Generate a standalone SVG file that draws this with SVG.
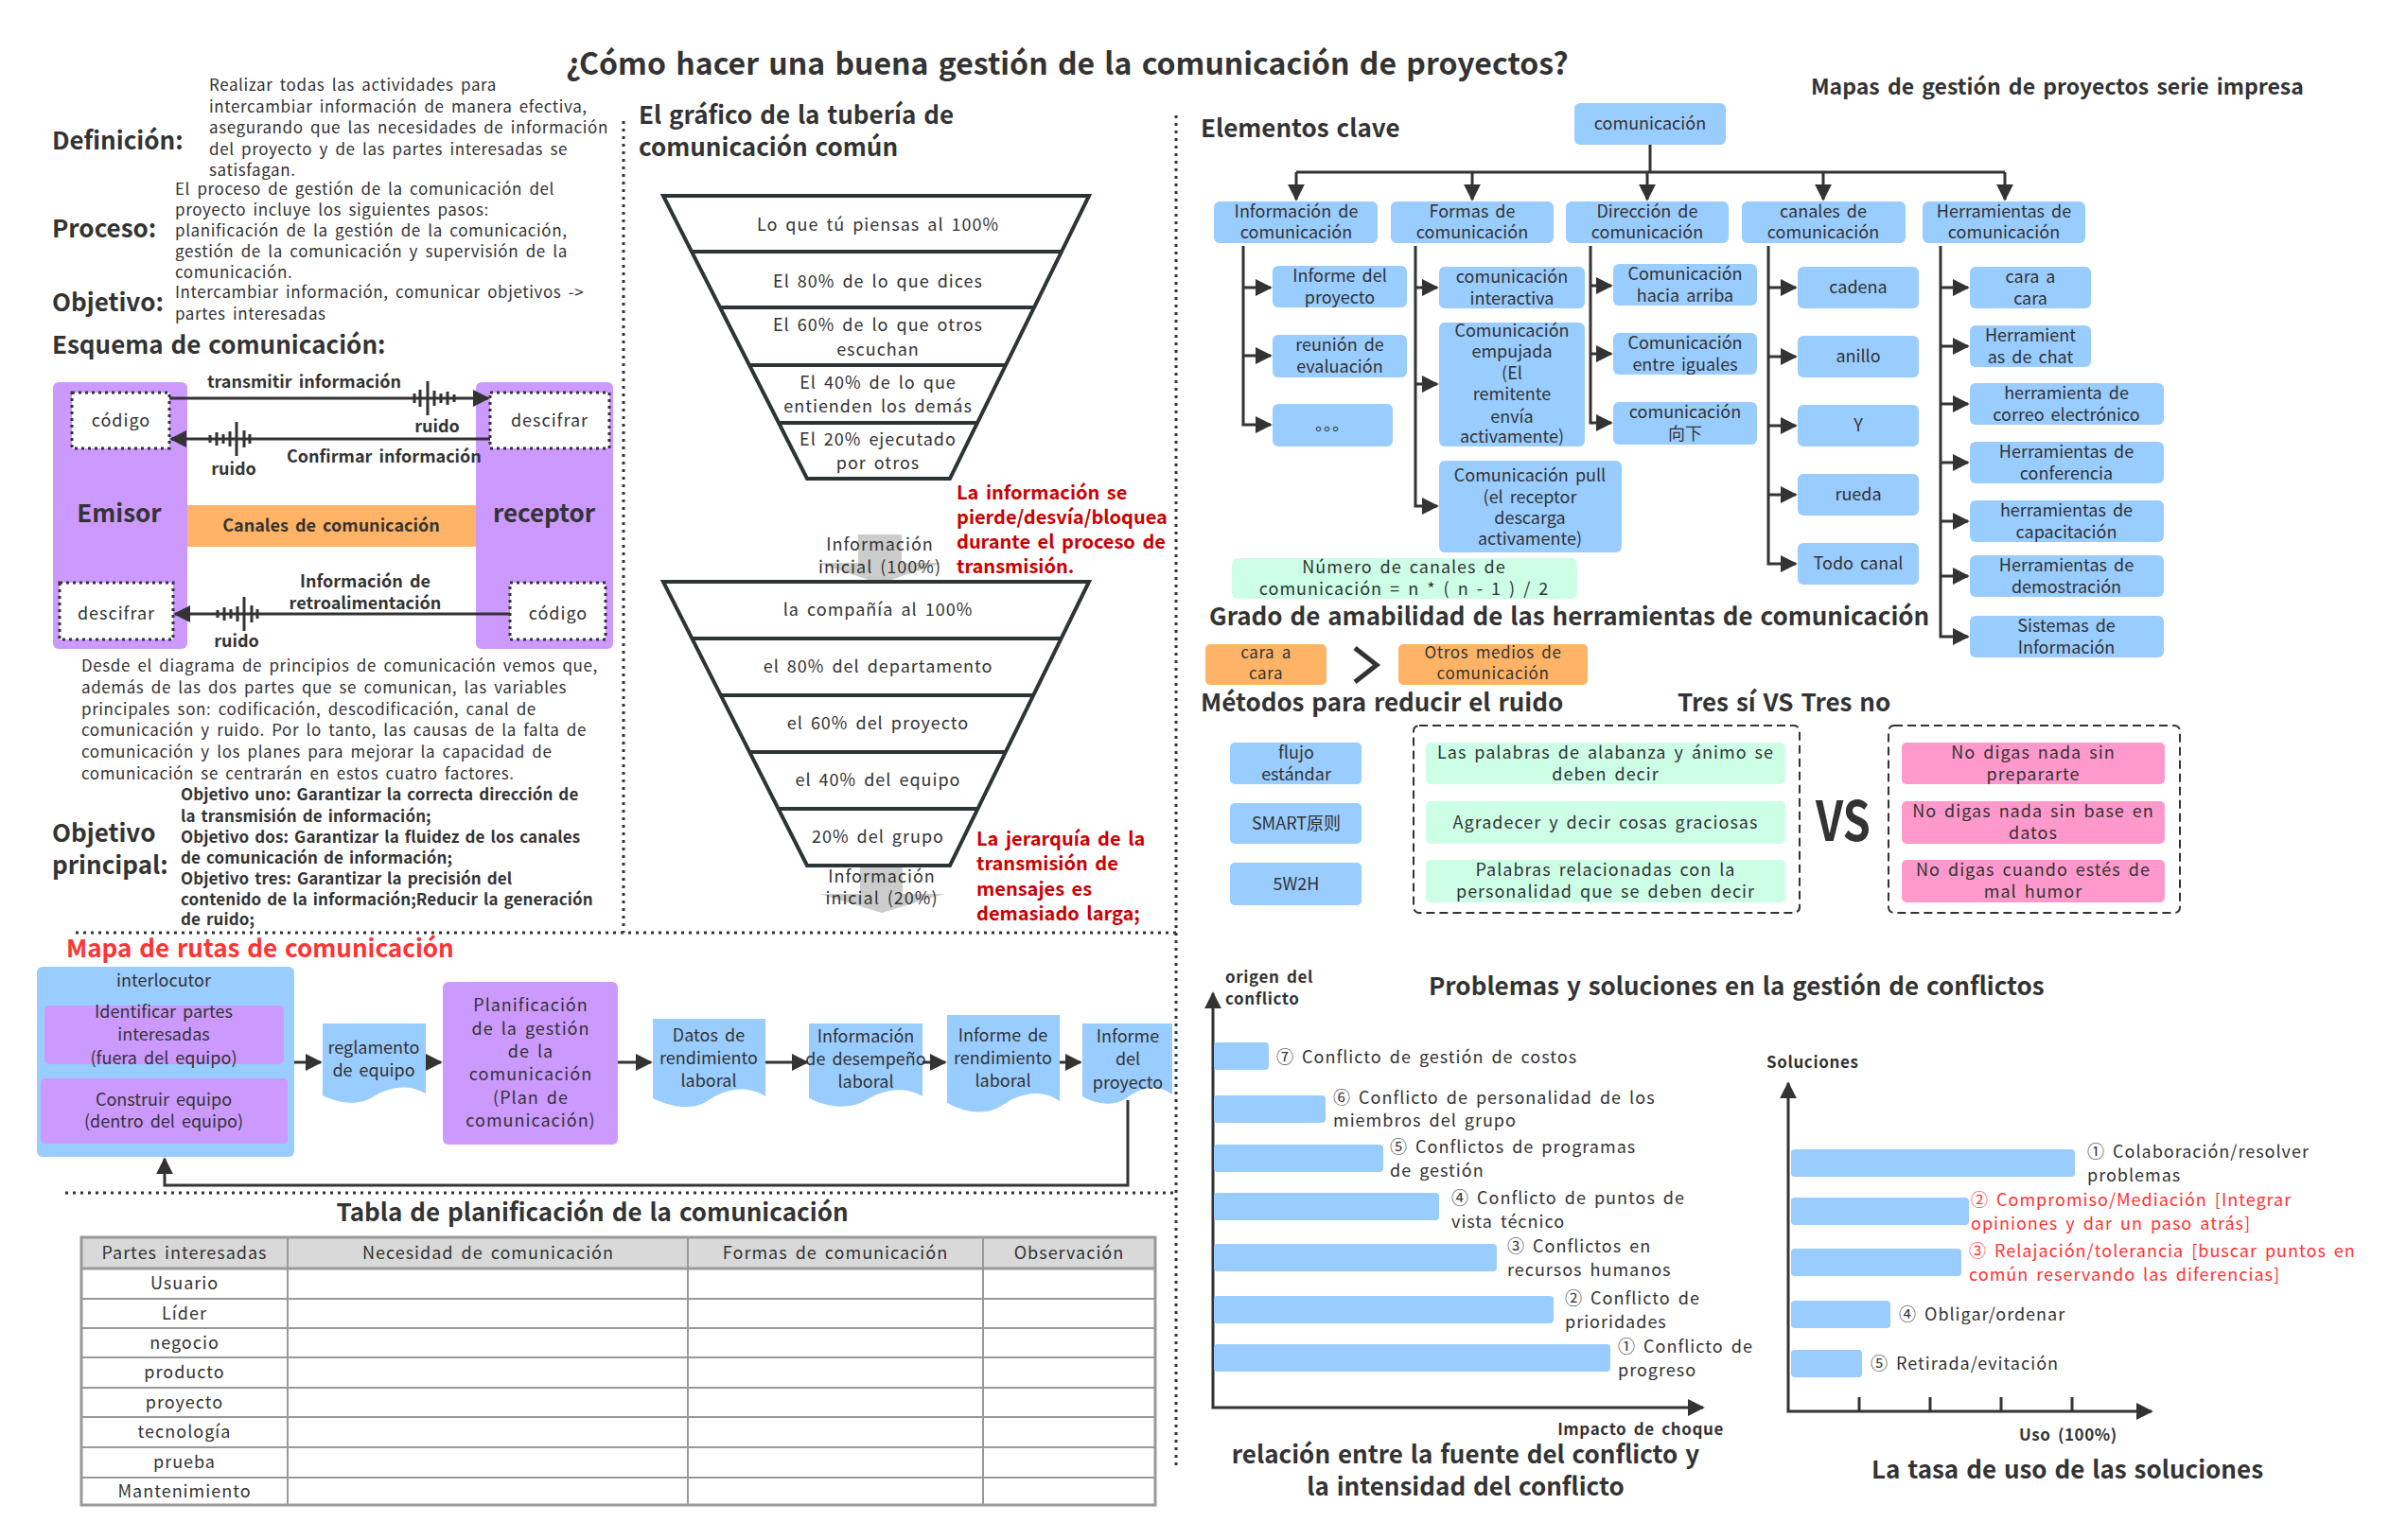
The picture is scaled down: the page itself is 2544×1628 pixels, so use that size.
<svg xmlns="http://www.w3.org/2000/svg" width="2544" height="1628" viewBox="0 0 2544 1628">
<defs>
<style>
text{font-family:"Noto Sans CJK SC","Noto Sans",sans-serif;fill:#333;font-size:18px;word-spacing:3px}
.b{font-weight:bold}
.m{text-anchor:middle}
.e{text-anchor:end}
.h1{font-size:32px;font-weight:bold}
.h2{font-size:26px;font-weight:bold;word-spacing:2px}
.h3{font-size:23px;font-weight:bold}
.s17{font-size:17px;letter-spacing:0.6px}
.ob{font-size:17px;font-weight:bold;letter-spacing:0.1px;word-spacing:2px}
.f{letter-spacing:1px}
.blue{fill:#99CCFF}
.purple{fill:#CC99FF}
.orange{fill:#FFB366}
.mint{fill:#CCFFE6}
.pink{fill:#FF99CC}
.ln{stroke:#333;stroke-width:3;fill:none}
.fun{stroke:#2D3436;stroke-width:4;fill:none;stroke-linejoin:miter}
.dot{stroke:#333;stroke-width:3;stroke-dasharray:3 4;fill:#fff}
.sep{stroke:#333;stroke-width:3;stroke-dasharray:3 5;fill:none}
.dash{stroke:#333;stroke-width:2;stroke-dasharray:9 5;fill:none}
.red{fill:#CC0000;font-weight:bold;font-size:20px}
.red2{fill:#FF3333}
.gray{fill:#CCCCCC}
.tb{stroke:#999;stroke-width:2;fill:none}
</style>
<marker id="ar" viewBox="0 0 10 10" refX="9" refY="5" markerWidth="6" markerHeight="6" orient="auto-start-reverse" markerUnits="strokeWidth">
<path d="M0,0 L10,5 L0,10 Z" fill="#333"/>
</marker>
<path id="noise" d="M-14,-5v10 M-8,-9v18 M0,-18v36 M7,-8v16 M14,-5v10 M21,-7v14 M28,-4v8" stroke="#333" stroke-width="3" fill="none"/>
</defs>
<rect width="2544" height="1628" fill="#fff"/>

<!-- Titles -->
<text class="h1 m" x="1128" y="79">¿Cómo hacer una buena gestión de la comunicación de proyectos?</text>
<text class="h3" x="1914" y="100">Mapas de gestión de proyectos serie impresa</text>

<!-- Separators -->
<g id="separators">
<path class="sep" d="M659,128 V986"/>
<path class="sep" d="M1243,122 V1550"/>
<path class="sep" d="M80,986 H1243"/>
<path class="sep" d="M69,1261 H1243"/>
</g>

<!-- Definitions -->
<g id="definicion">
<text class="h2" x="55" y="158">Definición:</text>
<text class="s17" x="221" y="96">Realizar todas las actividades para</text>
<text class="s17" x="221" y="119">intercambiar información de manera efectiva,</text>
<text class="s17" x="221" y="141">asegurando que las necesidades de información</text>
<text class="s17" x="221" y="164">del proyecto y de las partes interesadas se</text>
<text class="s17" x="221" y="186">satisfagan.</text>
</g>
<g id="proceso">
<text class="h2" x="55" y="251">Proceso:</text>
<text class="s17" x="185" y="206">El proceso de gestión de la comunicación del</text>
<text class="s17" x="185" y="228">proyecto incluye los siguientes pasos:</text>
<text class="s17" x="185" y="250">planificación de la gestión de la comunicación,</text>
<text class="s17" x="185" y="272">gestión de la comunicación y supervisión de la</text>
<text class="s17" x="185" y="294">comunicación.</text>
</g>
<g id="objetivo">
<text class="h2" x="55" y="329">Objetivo:</text>
<text class="s17" x="185" y="315">Intercambiar información, comunicar objetivos -&gt;</text>
<text class="s17" x="185" y="338">partes interesadas</text>
</g>
<text class="h2" x="55" y="374">Esquema de comunicación:</text>

<!-- Communication scheme -->
<g id="emisor">
<rect class="purple" x="56" y="404" width="142" height="282" rx="6"/>
<text class="h2 m" x="126" y="552">Emisor</text>
</g>
<g id="receptor">
<rect class="purple" x="503" y="404" width="145" height="282" rx="6"/>
<text class="h2 m" x="575" y="552">receptor</text>
</g>
<g id="canales">
<rect class="orange" x="198" y="534" width="305" height="44"/>
<text class="b m" x="350" y="562">Canales de comunicación</text>
</g>
<g id="codigo1"><rect class="dot" x="76" y="415" width="103" height="59"/><text class="m f" x="128" y="451">código</text></g>
<g id="descifrar1"><rect class="dot" x="518" y="415" width="126" height="59"/><text class="m f" x="581" y="451">descifrar</text></g>
<g id="descifrar2"><rect class="dot" x="63" y="616" width="120" height="60"/><text class="m f" x="123" y="655">descifrar</text></g>
<g id="codigo2"><rect class="dot" x="539" y="616" width="101" height="60"/><text class="m f" x="590" y="655">código</text></g>
<g id="scheme-connectors">
<path class="ln" d="M179,421 H516" marker-end="url(#ar)"/>
<path class="ln" d="M518,464 H181" marker-end="url(#ar)"/>
<path class="ln" d="M539,649 H185" marker-end="url(#ar)"/>
<use href="#noise" x="452" y="421"/>
<use href="#noise" transform="translate(250,464) scale(-1,1)"/>
<use href="#noise" transform="translate(258,649) scale(-1,1)"/>
</g>
<text class="b" x="219" y="410">transmitir información</text>
<text class="b m" x="462" y="457">ruido</text>
<text class="b" x="303" y="489">Confirmar información</text>
<text class="b m" x="247" y="502">ruido</text>
<text class="b m" x="386" y="621">Información de</text>
<text class="b m" x="386" y="644">retroalimentación</text>
<text class="b m" x="250" y="684">ruido</text>

<g id="parrafo">
<text class="s17" x="86" y="710">Desde el diagrama de principios de comunicación vemos que,</text>
<text class="s17" x="86" y="733">además de las dos partes que se comunican, las variables</text>
<text class="s17" x="86" y="756">principales son: codificación, descodificación, canal de</text>
<text class="s17" x="86" y="778">comunicación y ruido. Por lo tanto, las causas de la falta de</text>
<text class="s17" x="86" y="801">comunicación y los planes para mejorar la capacidad de</text>
<text class="s17" x="86" y="824">comunicación se centrarán en estos cuatro factores.</text>
</g>
<g id="objetivo-principal">
<text class="h2" x="55" y="890">Objetivo</text>
<text class="h2" x="55" y="924">principal:</text>
<text class="ob" x="191" y="846">Objetivo uno: Garantizar la correcta dirección de</text>
<text class="ob" x="191" y="869">la transmisión de información;</text>
<text class="ob" x="191" y="891">Objetivo dos: Garantizar la fluidez de los canales</text>
<text class="ob" x="191" y="913">de comunicación de información;</text>
<text class="ob" x="191" y="935">Objetivo tres: Garantizar la precisión del</text>
<text class="ob" x="191" y="957">contenido de la información;Reducir la generación</text>
<text class="ob" x="191" y="978">de ruido;</text>
</g>

<!-- Funnel section -->
<text class="h2" x="675" y="131">El gráfico de la tubería de</text>
<text class="h2" x="675" y="165">comunicación común</text>
<g id="funnel1">
<path class="fun" d="M701,207 H1151 L1004,506 H853 Z M731,266 H1122 M761,325 H1093 M792,386 H1063 M823,447 H1033"/>
<text class="m f" x="928" y="244">Lo que tú piensas al 100%</text>
<text class="m f" x="928" y="304">El 80% de lo que dices</text>
<text class="m f" x="928" y="350">El 60% de lo que otros</text>
<text class="m f" x="928" y="376">escuchan</text>
<text class="m f" x="928" y="411">El 40% de lo que</text>
<text class="m f" x="928" y="436">entienden los demás</text>
<text class="m f" x="928" y="471">El 20% ejecutado</text>
<text class="m f" x="928" y="496">por otros</text>
</g>
<g id="red-note1">
<text class="red" x="1011" y="528">La información se</text>
<text class="red" x="1011" y="554">pierde/desvía/bloquea</text>
<text class="red" x="1011" y="580">durante el proceso de</text>
<text class="red" x="1011" y="606">transmisión.</text>
</g>
<g id="input-arrow1">
<path class="gray" d="M907,565 H953 V595 H995 L930,617 L864,595 H907 Z"/>
<text class="m f" x="930" y="582">Información</text>
<text class="m f" x="930" y="606">inicial (100%)</text>
</g>
<g id="funnel2">
<path class="fun" d="M701,615 H1151 L1004,915 H853 Z M731,675 H1122 M762,735 H1092 M792,795 H1063 M823,855 H1033"/>
<text class="m f" x="928" y="651">la compañía al 100%</text>
<text class="m f" x="928" y="711">el 80% del departamento</text>
<text class="m f" x="928" y="771">el 60% del proyecto</text>
<text class="m f" x="928" y="831">el 40% del equipo</text>
<text class="m f" x="928" y="891">20% del grupo</text>
</g>
<g id="input-arrow2">
<path class="gray" d="M909,917 H954 V945 H998 L932,965 L866,945 H909 Z"/>
<text class="m f" x="932" y="933">Información</text>
<text class="m f" x="932" y="956">inicial (20%)</text>
</g>
<g id="red-note2">
<text class="red" x="1032" y="894">La jerarquía de la</text>
<text class="red" x="1032" y="920">transmisión de</text>
<text class="red" x="1032" y="947">mensajes es</text>
<text class="red" x="1032" y="973">demasiado larga;</text>
</g>

<!-- Route map -->
<text class="h2 red2" x="70" y="1012">Mapa de rutas de comunicación</text>
<g id="interlocutor">
<rect class="blue" x="39" y="1022" width="272" height="201" rx="6"/>
<text class="m" x="173" y="1043">interlocutor</text>
<rect class="purple" x="47" y="1063" width="253" height="62" rx="5"/>
<text class="m" x="173" y="1076">Identificar partes</text>
<text class="m" x="173" y="1100">interesadas</text>
<text class="m" x="173" y="1125">(fuera del equipo)</text>
<rect class="purple" x="43" y="1140" width="261" height="69" rx="5"/>
<text class="m" x="173" y="1169">Construir equipo</text>
<text class="m" x="173" y="1192">(dentro del equipo)</text>
</g>
<g id="reglamento">
<path class="blue" d="M341,1082 H450 V1156 C428,1143 406,1152 395,1159 C379,1170 357,1166 341,1158 Z"/>
<text class="m" x="395" y="1114">reglamento</text>
<text class="m" x="395" y="1138">de equipo</text>
</g>
<g id="planificacion">
<rect class="purple" x="468" y="1038" width="185" height="172" rx="6"/>
<text class="m f" x="561" y="1069">Planificación</text>
<text class="m f" x="561" y="1094">de la gestión</text>
<text class="m f" x="561" y="1118">de la</text>
<text class="m f" x="561" y="1142">comunicación</text>
<text class="m f" x="561" y="1167">(Plan de</text>
<text class="m f" x="561" y="1191">comunicación)</text>
</g>
<g id="datos">
<path class="blue" d="M690,1077 H809 V1159 C785,1144 761,1155 749,1163 C732,1175 708,1170 690,1161 Z"/>
<text class="m" x="749" y="1101">Datos de</text>
<text class="m" x="749" y="1125">rendimiento</text>
<text class="m" x="749" y="1149">laboral</text>
</g>
<g id="desempeno">
<path class="blue" d="M855,1082 H975 V1159 C951,1145 927,1156 915,1163 C897,1174 873,1170 855,1161 Z"/>
<text class="m" x="915" y="1102">Información</text>
<text class="m" x="915" y="1126">de desempeño</text>
<text class="m" x="915" y="1150">laboral</text>
</g>
<g id="informe-rendimiento">
<path class="blue" d="M1001,1073 H1120 V1164 C1096,1148 1072,1160 1060,1168 C1043,1180 1019,1176 1001,1166 Z"/>
<text class="m" x="1060" y="1101">Informe de</text>
<text class="m" x="1060" y="1125">rendimiento</text>
<text class="m" x="1060" y="1149">laboral</text>
</g>
<g id="informe-proyecto">
<path class="blue" d="M1144,1082 H1239 V1157 C1220,1143 1201,1153 1192,1160 C1177,1171 1158,1167 1144,1159 Z"/>
<text class="m" x="1192" y="1102">Informe</text>
<text class="m" x="1192" y="1126">del</text>
<text class="m" x="1192" y="1151">proyecto</text>
</g>
<g id="route-connectors">
<path class="ln" d="M311,1123 H339" marker-end="url(#ar)"/>
<path class="ln" d="M450,1123 H466" marker-end="url(#ar)"/>
<path class="ln" d="M653,1123 H688" marker-end="url(#ar)"/>
<path class="ln" d="M809,1123 H853" marker-end="url(#ar)"/>
<path class="ln" d="M975,1123 H999" marker-end="url(#ar)"/>
<path class="ln" d="M1120,1123 H1142" marker-end="url(#ar)"/>
<path class="ln" d="M1192,1163 V1253 H174 V1225" marker-end="url(#ar)"/>
</g>

<!-- Table -->
<text class="h2 m" x="626" y="1291">Tabla de planificación de la comunicación</text>
<g id="tabla">
<rect x="86" y="1308" width="1135" height="33" fill="#D9D9D9"/>
<path class="tb" d="M86,1373 H1221 M86,1404 H1221 M86,1435 H1221 M86,1467 H1221 M86,1498 H1221 M86,1530 H1221 M86,1562 H1221 M304,1308 V1591 M727,1308 V1591 M1039,1308 V1591"/>
<path d="M86,1341 H1221" stroke="#999" stroke-width="3"/>
<rect x="86" y="1308" width="1135" height="283" fill="none" stroke="#999" stroke-width="3"/>
<text class="m f" x="195" y="1331">Partes interesadas</text>
<text class="m f" x="516" y="1331">Necesidad de comunicación</text>
<text class="m f" x="883" y="1331">Formas de comunicación</text>
<text class="m f" x="1130" y="1331">Observación</text>
<text class="m f" x="195" y="1363">Usuario</text>
<text class="m f" x="195" y="1395">Líder</text>
<text class="m f" x="195" y="1426">negocio</text>
<text class="m f" x="195" y="1457">producto</text>
<text class="m f" x="195" y="1489">proyecto</text>
<text class="m f" x="195" y="1520">tecnología</text>
<text class="m f" x="195" y="1552">prueba</text>
<text class="m f" x="195" y="1583">Mantenimiento</text>
</g>

<!-- Elementos clave tree -->
<text class="h2" x="1269" y="145">Elementos clave</text>
<g id="root"><rect class="blue" x="1664" y="109" width="160" height="44" rx="6"/><text class="m" x="1744" y="137">comunicación</text></g>
<g id="c1"><rect class="blue" x="1283" y="213" width="173" height="44" rx="6"/><text class="m" x="1370" y="230">Información de</text><text class="m" x="1370" y="252">comunicación</text></g>
<g id="c2"><rect class="blue" x="1470" y="213" width="172" height="44" rx="6"/><text class="m" x="1556" y="230">Formas de</text><text class="m" x="1556" y="252">comunicación</text></g>
<g id="c3"><rect class="blue" x="1655" y="213" width="172" height="44" rx="6"/><text class="m" x="1741" y="230">Dirección de</text><text class="m" x="1741" y="252">comunicación</text></g>
<g id="c4"><rect class="blue" x="1841" y="213" width="173" height="44" rx="6"/><text class="m" x="1927" y="230">canales de</text><text class="m" x="1927" y="252">comunicación</text></g>
<g id="c5"><rect class="blue" x="2032" y="213" width="172" height="44" rx="6"/><text class="m" x="2118" y="230">Herramientas de</text><text class="m" x="2118" y="252">comunicación</text></g>

<g id="c1-items">
<rect class="blue" x="1345" y="281" width="142" height="44" rx="6"/><text class="m" x="1416" y="298">Informe del</text><text class="m" x="1416" y="321">proyecto</text>
<rect class="blue" x="1345" y="354" width="142" height="45" rx="6"/><text class="m" x="1416" y="371">reunión de</text><text class="m" x="1416" y="394">evaluación</text>
<rect class="blue" x="1345" y="427" width="127" height="45" rx="6"/><text class="m" x="1408" y="455">。。。</text>
</g>
<g id="c2-items">
<rect class="blue" x="1521" y="282" width="154" height="44" rx="6"/><text class="m" x="1598" y="299">comunicación</text><text class="m" x="1598" y="322">interactiva</text>
<rect class="blue" x="1521" y="341" width="154" height="131" rx="6"/>
<text class="m" x="1598" y="356">Comunicación</text><text class="m" x="1598" y="378">empujada</text><text class="m" x="1598" y="401">(El</text><text class="m" x="1598" y="423">remitente</text><text class="m" x="1598" y="447">envía</text><text class="m" x="1598" y="468">activamente)</text>
<rect class="blue" x="1521" y="487" width="193" height="97" rx="6"/>
<text class="m" x="1617" y="509">Comunicación pull</text><text class="m" x="1617" y="532">(el receptor</text><text class="m" x="1617" y="554">descarga</text><text class="m" x="1617" y="576">activamente)</text>
</g>
<g id="c3-items">
<rect class="blue" x="1705" y="279" width="152" height="44" rx="6"/><text class="m" x="1781" y="296">Comunicación</text><text class="m" x="1781" y="319">hacia arriba</text>
<rect class="blue" x="1705" y="352" width="152" height="44" rx="6"/><text class="m" x="1781" y="369">Comunicación</text><text class="m" x="1781" y="392">entre iguales</text>
<rect class="blue" x="1705" y="425" width="152" height="45" rx="6"/><text class="m" x="1781" y="442">comunicación</text><text class="m" x="1781" y="465">向下</text>
</g>
<g id="c4-items">
<rect class="blue" x="1900" y="282" width="128" height="44" rx="6"/><text class="m" x="1964" y="310">cadena</text>
<rect class="blue" x="1900" y="355" width="128" height="44" rx="6"/><text class="m" x="1964" y="383">anillo</text>
<rect class="blue" x="1900" y="428" width="128" height="44" rx="6"/><text class="m" x="1964" y="456">Y</text>
<rect class="blue" x="1900" y="501" width="128" height="44" rx="6"/><text class="m" x="1964" y="529">rueda</text>
<rect class="blue" x="1900" y="574" width="128" height="44" rx="6"/><text class="m" x="1964" y="602">Todo canal</text>
</g>
<g id="c5-items">
<rect class="blue" x="2082" y="282" width="128" height="44" rx="6"/><text class="m" x="2146" y="299">cara a</text><text class="m" x="2146" y="322">cara</text>
<rect class="blue" x="2082" y="344" width="128" height="44" rx="6"/><text class="m" x="2146" y="361">Herramient</text><text class="m" x="2146" y="384">as de chat</text>
<rect class="blue" x="2082" y="405" width="205" height="44" rx="6"/><text class="m" x="2184" y="422">herramienta de</text><text class="m" x="2184" y="445">correo electrónico</text>
<rect class="blue" x="2082" y="467" width="205" height="44" rx="6"/><text class="m" x="2184" y="484">Herramientas de</text><text class="m" x="2184" y="507">conferencia</text>
<rect class="blue" x="2082" y="529" width="205" height="44" rx="6"/><text class="m" x="2184" y="546">herramientas de</text><text class="m" x="2184" y="569">capacitación</text>
<rect class="blue" x="2082" y="587" width="205" height="44" rx="6"/><text class="m" x="2184" y="604">Herramientas de</text><text class="m" x="2184" y="627">demostración</text>
<rect class="blue" x="2082" y="651" width="205" height="44" rx="6"/><text class="m" x="2184" y="668">Sistemas de</text><text class="m" x="2184" y="691">Información</text>
</g>
<g id="tree-connectors">
<path class="ln" d="M1744,153 V182 M1370,182 H2119"/>
<path class="ln" d="M1370,182 V211" marker-end="url(#ar)"/>
<path class="ln" d="M1556,182 V211" marker-end="url(#ar)"/>
<path class="ln" d="M1741,182 V211" marker-end="url(#ar)"/>
<path class="ln" d="M1927,182 V211" marker-end="url(#ar)"/>
<path class="ln" d="M2119,182 V211" marker-end="url(#ar)"/>
<path class="ln" d="M1314,260 V449 H1343" marker-end="url(#ar)"/>
<path class="ln" d="M1314,304 H1343" marker-end="url(#ar)"/>
<path class="ln" d="M1314,376 H1343" marker-end="url(#ar)"/>
<path class="ln" d="M1496,260 V535 H1519" marker-end="url(#ar)"/>
<path class="ln" d="M1496,304 H1519" marker-end="url(#ar)"/>
<path class="ln" d="M1496,406 H1519" marker-end="url(#ar)"/>
<path class="ln" d="M1681,260 V447 H1703" marker-end="url(#ar)"/>
<path class="ln" d="M1681,302 H1703" marker-end="url(#ar)"/>
<path class="ln" d="M1681,374 H1703" marker-end="url(#ar)"/>
<path class="ln" d="M1869,260 V596 H1898" marker-end="url(#ar)"/>
<path class="ln" d="M1869,304 H1898" marker-end="url(#ar)"/>
<path class="ln" d="M1869,377 H1898" marker-end="url(#ar)"/>
<path class="ln" d="M1869,450 H1898" marker-end="url(#ar)"/>
<path class="ln" d="M1869,523 H1898" marker-end="url(#ar)"/>
<path class="ln" d="M2051,260 V673 H2080" marker-end="url(#ar)"/>
<path class="ln" d="M2051,304 H2080" marker-end="url(#ar)"/>
<path class="ln" d="M2051,366 H2080" marker-end="url(#ar)"/>
<path class="ln" d="M2051,427 H2080" marker-end="url(#ar)"/>
<path class="ln" d="M2051,489 H2080" marker-end="url(#ar)"/>
<path class="ln" d="M2051,551 H2080" marker-end="url(#ar)"/>
<path class="ln" d="M2051,609 H2080" marker-end="url(#ar)"/>
</g>
<g id="formula">
<rect class="mint" x="1302" y="590" width="365" height="43" rx="6"/>
<text class="m f" x="1484" y="606">Número de canales de</text>
<text class="m f" x="1484" y="629">comunicación = n * ( n - 1 ) / 2</text>
</g>

<!-- Grado de amabilidad -->
<text class="h2" x="1278" y="661">Grado de amabilidad de las herramientas de comunicación</text>
<g id="cara"><rect class="orange" x="1274" y="681" width="128" height="43" rx="5"/><text class="m s17" x="1338" y="696">cara a</text><text class="m s17" x="1338" y="718">cara</text></g>
<path d="M1432,685 L1455,703 L1432,721" stroke="#333" stroke-width="5" fill="none"/>
<g id="otros"><rect class="orange" x="1478" y="681" width="200" height="43" rx="5"/><text class="m s17" x="1578" y="696">Otros medios de</text><text class="m s17" x="1578" y="718">comunicación</text></g>

<!-- Ruido -->
<text class="h2" x="1269" y="752">Métodos para reducir el ruido</text>
<text class="h2" x="1773" y="752">Tres sí VS Tres no</text>
<g id="ruido-metodos">
<rect class="blue" x="1300" y="785" width="139" height="44" rx="5"/><text class="m" x="1370" y="802">flujo</text><text class="m" x="1370" y="825">estándar</text>
<rect class="blue" x="1300" y="849" width="139" height="43" rx="5"/><text class="m" x="1370" y="877">SMART原则</text>
<rect class="blue" x="1300" y="912" width="139" height="45" rx="5"/><text class="m" x="1370" y="941">5W2H</text>
</g>
<g id="tres-si">
<rect class="dash" x="1494" y="767" width="408" height="198" rx="6"/>
<rect class="mint" x="1507" y="785" width="380" height="44" rx="5"/><text class="m f" x="1697" y="802">Las palabras de alabanza y ánimo se</text><text class="m f" x="1697" y="825">deben decir</text>
<rect class="mint" x="1507" y="847" width="380" height="45" rx="5"/><text class="m f" x="1697" y="876">Agradecer y decir cosas graciosas</text>
<rect class="mint" x="1507" y="909" width="380" height="45" rx="5"/><text class="m f" x="1697" y="926">Palabras relacionadas con la</text><text class="m f" x="1697" y="949">personalidad que se deben decir</text>
</g>
<text class="b m" x="1948" y="889" style="font-size:58px" textLength="58" lengthAdjust="spacingAndGlyphs">VS</text>
<g id="tres-no">
<rect class="dash" x="1996" y="767" width="308" height="198" rx="6"/>
<rect class="pink" x="2010" y="785" width="278" height="44" rx="5"/><text class="m f" x="2149" y="802">No digas nada sin</text><text class="m f" x="2149" y="825">prepararte</text>
<rect class="pink" x="2010" y="847" width="278" height="45" rx="5"/><text class="m f" x="2149" y="864">No digas nada sin base en</text><text class="m f" x="2149" y="887">datos</text>
<rect class="pink" x="2010" y="909" width="278" height="45" rx="5"/><text class="m f" x="2149" y="926">No digas cuando estés de</text><text class="m f" x="2149" y="949">mal humor</text>
</g>

<!-- Conflicts -->
<text class="h2" x="1510" y="1052">Problemas y soluciones en la gestión de conflictos</text>
<g id="conflict-chart">
<text class="b s17" x="1295" y="1039">origen del</text>
<text class="b s17" x="1295" y="1062">conflicto</text>
<path class="ln" d="M1282,1050 V1488 H1800" marker-start="url(#ar)" marker-end="url(#ar)"/>
<rect class="blue" x="1283" y="1102" width="58" height="29" rx="4"/>
<rect class="blue" x="1283" y="1158" width="118" height="29" rx="4"/>
<rect class="blue" x="1283" y="1210" width="179" height="29" rx="4"/>
<rect class="blue" x="1283" y="1261" width="238" height="29" rx="4"/>
<rect class="blue" x="1283" y="1315" width="299" height="29" rx="4"/>
<rect class="blue" x="1283" y="1370" width="359" height="29" rx="4"/>
<rect class="blue" x="1283" y="1421" width="419" height="29" rx="4"/>
<text class="f" x="1349" y="1124">⑦ Conflicto de gestión de costos</text>
<text class="f" x="1409" y="1167">⑥ Conflicto de personalidad de los</text>
<text class="f" x="1409" y="1191">miembros del grupo</text>
<text class="f" x="1469" y="1219">⑤ Conflictos de programas</text>
<text class="f" x="1469" y="1244">de gestión</text>
<text class="f" x="1534" y="1273">④ Conflicto de puntos de</text>
<text class="f" x="1534" y="1298">vista técnico</text>
<text class="f" x="1593" y="1324">③ Conflictos en</text>
<text class="f" x="1593" y="1349">recursos humanos</text>
<text class="f" x="1654" y="1379">② Conflicto de</text>
<text class="f" x="1654" y="1404">prioridades</text>
<text class="f" x="1710" y="1430">① Conflicto de</text>
<text class="f" x="1710" y="1455">progreso</text>
<text class="b s17 e" x="1822" y="1517">Impacto de choque</text>
<text class="h2 m" x="1549" y="1547">relación entre la fuente del conflicto y</text>
<text class="h2 m" x="1549" y="1581">la intensidad del conflicto</text>
</g>
<g id="solution-chart">
<text class="b s17" x="1867" y="1129">Soluciones</text>
<path class="ln" d="M1890,1145 V1492 H2274" marker-start="url(#ar)" marker-end="url(#ar)"/>
<path class="ln" d="M1965,1492 V1477 M2040,1492 V1477 M2115,1492 V1477 M2190,1492 V1477"/>
<rect class="blue" x="1893" y="1215" width="300" height="29" rx="4"/>
<rect class="blue" x="1893" y="1266" width="188" height="29" rx="4"/>
<rect class="blue" x="1893" y="1320" width="180" height="29" rx="4"/>
<rect class="blue" x="1893" y="1375" width="105" height="29" rx="4"/>
<rect class="blue" x="1893" y="1427" width="75" height="29" rx="4"/>
<text class="f" x="2206" y="1224">① Colaboración/resolver</text>
<text class="f" x="2206" y="1249">problemas</text>
<text class="red2 f" x="2083" y="1275">② Compromiso/Mediación [Integrar</text>
<text class="red2 f" x="2083" y="1300">opiniones y dar un paso atrás]</text>
<text class="red2 f" x="2081" y="1329">③ Relajación/tolerancia [buscar puntos en</text>
<text class="red2 f" x="2081" y="1354">común reservando las diferencias]</text>
<text class="f" x="2007" y="1396">④ Obligar/ordenar</text>
<text class="f" x="1977" y="1448">⑤ Retirada/evitación</text>
<text class="b s17" x="2134" y="1523">Uso (100%)</text>
<text class="h2 m" x="2185" y="1563">La tasa de uso de las soluciones</text>
</g>
</svg>
